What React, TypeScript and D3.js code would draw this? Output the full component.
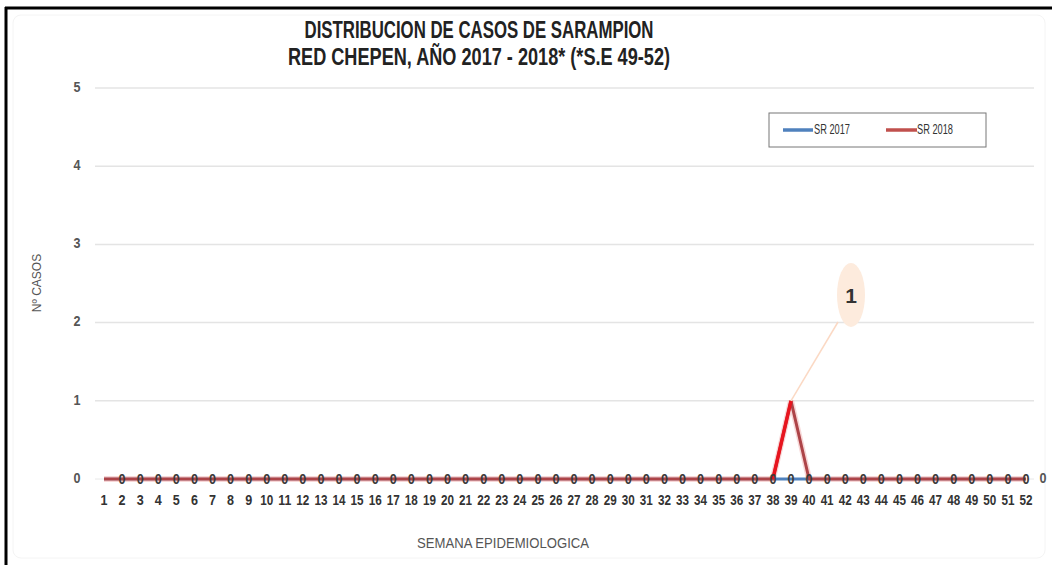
import React from "react";
import * as d3 from "d3";

const weeks: number[] = Array.from({ length: 52 }, (_, i) => i + 1);
const sr2017: number[] = [
  0, 0, 0, 0, 0, 0, 0, 0, 0, 0, 0, 0, 0, 0, 0, 0, 0, 0, 0, 0, 0, 0, 0, 0, 0, 0,
  0, 0, 0, 0, 0, 0, 0, 0, 0, 0, 0, 0, 0, 0, 0, 0, 0, 0, 0, 0, 0, 0, 0, 0, 0, 0,
];
const sr2018: number[] = [
  0, 0, 0, 0, 0, 0, 0, 0, 0, 0, 0, 0, 0, 0, 0, 0, 0, 0, 0, 0, 0, 0, 0, 0, 0, 0,
  0, 0, 0, 0, 0, 0, 0, 0, 0, 0, 0, 0, 1, 0, 0, 0, 0, 0, 0, 0, 0, 0, 0, 0, 0, 0,
];
const yTicks: number[] = [0, 1, 2, 3, 4, 5];
const titleLines: string[] = [
  "DISTRIBUCION DE CASOS DE SARAMPION",
  "RED CHEPEN, AÑO 2017 - 2018*  (*S.E 49-52)",
];
const titleWidths: number[] = [349, 382];
const seriesNames: string[] = ["SR 2017", "SR 2018"];

const W = 1052;
const H = 565;
const font = "'Liberation Sans', 'DejaVu Sans', sans-serif";

export default function App() {
  const x = d3.scalePoint<number>().domain(weeks).range([104, 1026]);
  const y = d3.scaleLinear().domain([0, 5]).range([479, 88]);

  const line = d3
    .line<number>()
    .x((_, i) => x(weeks[i]) as number)
    .y((d) => y(d));

  const peakIdx = sr2018.indexOf(d3.max(sr2018) as number);
  const px = x(weeks[peakIdx]) as number;
  const py = y(sr2018[peakIdx]);

  return (
    <svg
      width={W}
      height={H}
      style={{ position: "fixed", left: 0, top: 0, background: "#fff" }}
    >
      <rect x={0} y={0} width={W} height={H} fill="#fff" />
      {/* faint chart frame */}
      <rect x={13} y={15} width={W - 20} height={H - 22} rx={8} fill="none" stroke="#f4f4f4" strokeWidth={1} />
      {/* black outer border */}
      <line x1={6} y1={7} x2={6} y2={H} stroke="#000" strokeWidth={3} />
      <line x1={5} y1={8} x2={W} y2={8} stroke="#000" strokeWidth={3} />

      {/* title */}
      {titleLines.map((t, i) => (
        <text
          key={i}
          x={479}
          y={38 + i * 27}
          textAnchor="middle"
          fontFamily={font}
          fontWeight="bold"
          fontSize={23}
          textLength={titleWidths[i]}
          lengthAdjust="spacingAndGlyphs"
          fill="#222"
        >
          {t}
        </text>
      ))}

      {/* gridlines */}
      {yTicks
        .filter((t) => t > 0)
        .map((t) => (
          <line key={t} x1={95} x2={1034} y1={y(t)} y2={y(t)} stroke="#e4e4e4" strokeWidth={1.5} />
        ))}
      <line x1={95} x2={1034} y1={y(0)} y2={y(0)} stroke="#e8e8e8" strokeWidth={1} />

      {/* y tick labels */}
      {yTicks.map((t) => (
        <text
          key={t}
          x={77}
          y={y(t)}
          dominantBaseline="middle"
          textAnchor="middle"
          fontFamily={font}
          fontWeight="bold"
          fontSize={14}
          textLength={7}
          lengthAdjust="spacingAndGlyphs"
          fill="#555"
        >
          {t}
        </text>
      ))}

      {/* y axis title */}
      <text
        transform={`translate(38,${283}) rotate(-90)`}
        textAnchor="middle"
        dominantBaseline="middle"
        fontFamily={font}
        fontSize={12}
        fill="#555"
      >
        Nº CASOS
      </text>

      {/* x tick labels */}
      {weeks.map((w) => (
        <text
          key={w}
          x={x(w) as number}
          y={501}
          textAnchor="middle"
          dominantBaseline="middle"
          fontFamily={font}
          fontWeight="bold"
          fontSize={14}
          textLength={w < 10 ? 7 : 13}
          lengthAdjust="spacingAndGlyphs"
          fill="#333"
        >
          {w}
        </text>
      ))}

      {/* x axis title */}
      <text
        x={503}
        y={544}
        textAnchor="middle"
        dominantBaseline="middle"
        fontFamily={font}
        fontSize={14}
        textLength={172}
        lengthAdjust="spacingAndGlyphs"
        fill="#555"
      >
        SEMANA EPIDEMIOLOGICA
      </text>

      {/* series lines */}
      <path d={line(sr2017) || ""} fill="none" stroke="#4f81bd" strokeWidth={3} />
      <path d={line(sr2018) || ""} fill="none" stroke="#f3c6c6" strokeWidth={6} opacity={0.7} />
      <path d={line(sr2018) || ""} fill="none" stroke="#ad4448" strokeWidth={3} />
      {/* bright rising segment */}
      <line
        x1={x(weeks[peakIdx - 1]) as number}
        y1={y(sr2018[peakIdx - 1])}
        x2={px}
        y2={py}
        stroke="#e8141e"
        strokeWidth={3.5}
      />

      {/* zero data labels */}
      {sr2017.map((v, i) =>
        i === 0 ? null : (
          <text
            key={i}
            x={x(weeks[i]) as number}
            y={y(v) + 1}
            textAnchor="middle"
            dominantBaseline="middle"
            fontFamily={font}
            fontWeight="bold"
            fontSize={14}
            textLength={7}
            lengthAdjust="spacingAndGlyphs"
            fill="#3a3a3a"
          >
            {v}
          </text>
        )
      )}
      <text
        x={1043}
        y={y(sr2018[51])}
        textAnchor="middle"
        dominantBaseline="middle"
        fontFamily={font}
        fontWeight="bold"
        fontSize={14}
        textLength={7}
        lengthAdjust="spacingAndGlyphs"
        fill="#555"
      >
        {sr2018[51]}
      </text>

      {/* peak callout */}
      <line x1={px} y1={py} x2={838} y2={322} stroke="#fbd9c4" strokeWidth={1.5} />
      <ellipse cx={851} cy={295} rx={14} ry={32} fill="#fdebdd" />
      <text
        x={851}
        y={297}
        textAnchor="middle"
        dominantBaseline="middle"
        fontFamily={font}
        fontWeight="bold"
        fontSize={21}
        fill="#333"
      >
        {sr2018[peakIdx]}
      </text>

      {/* legend */}
      <rect x={769} y={113} width={217} height={34} fill="#fff" stroke="#777" strokeWidth={1} />
      <line x1={783} x2={813} y1={130} y2={130} stroke="#4f81bd" strokeWidth={3.5} />
      <text
        x={814}
        y={130}
        dominantBaseline="middle"
        fontFamily={font}
        fontSize={15}
        textLength={36}
        lengthAdjust="spacingAndGlyphs"
        fill="#333"
      >
        {seriesNames[0]}
      </text>
      <line x1={886} x2={917} y1={130} y2={130} stroke="#c0504d" strokeWidth={3.5} />
      <text
        x={917}
        y={130}
        dominantBaseline="middle"
        fontFamily={font}
        fontSize={15}
        textLength={36}
        lengthAdjust="spacingAndGlyphs"
        fill="#333"
      >
        {seriesNames[1]}
      </text>
    </svg>
  );
}
